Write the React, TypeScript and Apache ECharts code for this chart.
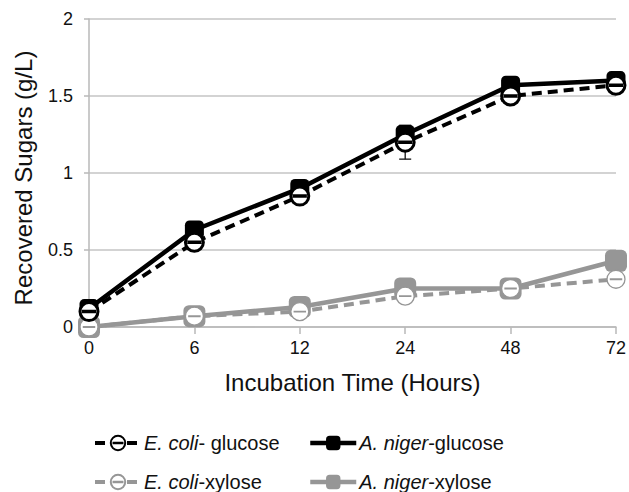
import React, { useEffect, useRef } from "react";
import * as echarts from "echarts";

const categories = ["0", "6", "12", "24", "48", "72"];
const ecoliGlucose = [0.1, 0.55, 0.85, 1.2, 1.5, 1.57];
const ecoliGlucoseErr = [0.01, 0.02, 0.03, 0.11, 0.03, 0.02];
const nigerGlucose = [0.12, 0.63, 0.9, 1.25, 1.57, 1.6];
const ecoliXylose = [0, 0.07, 0.1, 0.2, 0.25, 0.31];
const nigerXylose = [0, 0.07, 0.13, 0.25, 0.25, 0.43];

const names = ["E. coli- glucose", "A. niger-glucose", "E. coli-xylose", "A. niger-xylose"];
const legendLabels: Record<string, string> = {
  "E. coli- glucose": "{i|E. coli}{n|- glucose}",
  "A. niger-glucose": "{i|A. niger}{n|-glucose}",
  "E. coli-xylose": "{i|E. coli}{n|-xylose}",
  "A. niger-xylose": "{i|A. niger}{n|-xylose}",
};

const FONT = "Liberation Sans, Arial, sans-serif";
const circleBar =
  "path://M-1,0 A1,1 0 1,0 1,0 A1,1 0 1,0 -1,0 Z M-0.62,-0.03 L0.62,-0.03 L0.62,0.03 L-0.62,0.03 Z";

export default function App() {
  const ref = useRef<HTMLDivElement>(null);
  useEffect(() => {
    if (!ref.current) return;
    const chart = echarts.init(ref.current, undefined, { renderer: "svg" });
    const legendPos = [
      { left: 88, top: 428 },
      { left: 303, top: 428 },
      { left: 88, top: 467 },
      { left: 303, top: 467 },
    ];
    const legendLineWidth = [4, 4.5, 4, 4.5];
    const legends = names.map((n, i) => ({
      data: [n],
      left: legendPos[i].left,
      top: legendPos[i].top,
      itemWidth: 46,
      itemHeight: 18,
      itemGap: 0,
      selectedMode: false,
      lineStyle: { width: legendLineWidth[i] },
      formatter: (name: string) => legendLabels[name],
      textStyle: {
        padding: [0, 0, 0, -2],
        rich: {
          i: { fontStyle: "italic", fontSize: 20, fontFamily: FONT, color: "#111" },
          n: { fontSize: 20, fontFamily: FONT, color: "#111" },
        },
      },
    }));
    chart.setOption({
      animation: false,
      backgroundColor: "#fff",
      grid: { left: 89, right: 12, top: 19, bottom: 165, containLabel: false },
      legend: legends,
      xAxis: {
        type: "category",
        data: categories,
        boundaryGap: false,
        name: "Incubation Time (Hours)",
        nameLocation: "middle",
        nameGap: 43,
        nameTextStyle: { fontSize: 24, fontFamily: FONT, color: "#111" },
        axisLine: { lineStyle: { color: "#b8b8b8", width: 1.5 } },
        axisTick: { show: true, length: 7, lineStyle: { color: "#b8b8b8", width: 1.5 } },
        axisLabel: { fontSize: 18, fontFamily: FONT, color: "#111", margin: 12 },
        splitLine: { show: false },
      },
      yAxis: {
        type: "value",
        min: 0,
        max: 2,
        interval: 0.5,
        name: "Recovered Sugars (g/L)",
        nameLocation: "middle",
        nameGap: 54,
        nameTextStyle: { fontSize: 24, fontFamily: FONT, color: "#111", padding: [0, 10, 0, 0] },
        axisLine: { show: true, lineStyle: { color: "#b8b8b8", width: 1.5 } },
        axisTick: { show: true, length: 5, lineStyle: { color: "#b8b8b8", width: 1.5 } },
        axisLabel: { fontSize: 18, fontFamily: FONT, color: "#111", margin: 16 },
        splitLine: { show: true, lineStyle: { color: "#c4c4c4", width: 1.5 } },
      },
      series: [
        {
          type: "custom",
          name: "err",
          z: 1,
          silent: true,
          data: ecoliGlucose.map((v, i) => [i, v - ecoliGlucoseErr[i], v + ecoliGlucoseErr[i]]),
          renderItem: (params: any, api: any) => {
            const lo = api.coord([api.value(0), api.value(1)]);
            const hi = api.coord([api.value(0), api.value(2)]);
            const w = 6;
            const st = { stroke: "#111", lineWidth: 1.3 };
            return {
              type: "group",
              children: [
                { type: "line", shape: { x1: lo[0], y1: lo[1], x2: hi[0], y2: hi[1] }, style: st },
                { type: "line", shape: { x1: lo[0] - w, y1: lo[1], x2: lo[0] + w, y2: lo[1] }, style: st },
                { type: "line", shape: { x1: hi[0] - w, y1: hi[1], x2: hi[0] + w, y2: hi[1] }, style: st },
              ],
            };
          },
        },
        {
          name: names[3],
          type: "line",
          z: 2,
          data: nigerXylose,
          symbol: "roundRect",
          symbolSize: 22,
          lineStyle: { color: "#969696", width: 4.5 },
          itemStyle: { color: "#969696" },
        },
        {
          name: names[2],
          type: "line",
          z: 3,
          data: ecoliXylose,
          symbol: circleBar,
          symbolSize: 18,
          lineStyle: { color: "#969696", width: 4, type: [10, 6] },
          itemStyle: { color: "#fff", borderColor: "#969696", borderWidth: 1.3 },
        },
        {
          name: names[1],
          type: "line",
          z: 4,
          data: nigerGlucose,
          symbol: "roundRect",
          symbolSize: 19,
          lineStyle: { color: "#000", width: 4.5 },
          itemStyle: { color: "#000" },
        },
        {
          name: names[0],
          type: "line",
          z: 5,
          data: ecoliGlucose,
          symbol: circleBar,
          symbolSize: 18,
          lineStyle: { color: "#000", width: 4, type: [10, 6] },
          itemStyle: { color: "#fff", borderColor: "#000", borderWidth: 3 },
        },
      ],
    });
    return () => chart.dispose();
  }, []);
  return <div ref={ref} style={{ width: 629, height: 492, position: "absolute", left: 0, top: 0 }} />;
}
